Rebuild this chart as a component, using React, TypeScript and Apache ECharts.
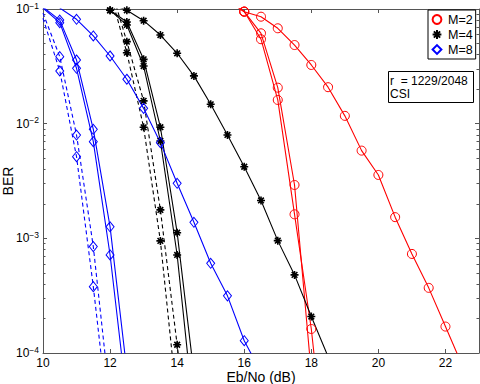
import React, { useEffect, useRef } from 'react';
import * as echarts from 'echarts';

const FONT = '"Liberation Sans", Arial, Helvetica, sans-serif';

// axis ticks
const xTickValues = [10, 12, 14, 16, 18, 20, 22];
const yMajorExp = [-4, -3, -2, -1];
const yMinorTicks = [
  2e-4, 3e-4, 4e-4, 5e-4, 6e-4, 7e-4, 8e-4, 9e-4,
  2e-3, 3e-3, 4e-3, 5e-3, 6e-3, 7e-3, 8e-3, 9e-3,
  2e-2, 3e-2, 4e-2, 5e-2, 6e-2, 7e-2, 8e-2, 9e-2,
];

// M=2 (red)
const m2SlowX = [15.5, 16, 16.5, 17, 17.5, 18, 18.5, 19, 19.5, 20, 20.5, 21, 21.5, 22, 22.5];
const m2SlowBER = [0.12, 0.0946, 0.0857, 0.0679, 0.0485, 0.0325, 0.0208, 0.0117, 0.00582, 0.00357, 0.00153, 7.31e-4, 3.7e-4, 1.7e-4, 7.8e-5];
const m2SteepXA = [15.5, 16, 16.5, 17, 17.5, 18];
const m2SteepBERA = [0.12, 0.095, 0.0614, 0.0206, 0.00292, 6.6e-5];
const m2SteepXB = [15.5, 16, 16.5, 17, 17.5, 18, 18.5];
const m2SteepBERB = [0.12, 0.095, 0.0545, 0.0161, 0.00162, 1.62e-4, 7.2e-6];

// M=4 (black)
const m4SlowX = [12, 12.5, 13, 13.5, 14, 14.5, 15, 15.5, 16, 16.5, 17, 17.5, 18, 18.5];
const m4SlowBER = [0.112, 0.0974, 0.0791, 0.0593, 0.0411, 0.0261, 0.01476, 0.00797, 0.00421, 0.00214, 9.55e-4, 4.8e-4, 2.08e-4, 9.3e-5];
const m4SolidX = [11.5, 12, 12.5, 13, 13.5, 14, 14.5];
const m4SolidBERA = [0.13, 0.0974, 0.077, 0.0364, 0.00931, 1.12e-3, 6.6e-5];
const m4SolidBERB = [0.13, 0.0974, 0.0726, 0.0318, 0.00706, 7.16e-4, 2.9e-5];
const m4DashXA = [12, 12.5, 13, 13.5, 14, 14.5];
const m4DashBERA = [0.16, 0.0519, 0.0158, 1.77e-3, 1.18e-4, 8e-6];
const m4DashXB = [12, 12.5, 13, 13.5, 14];
const m4DashBERB = [0.14, 0.0416, 0.0093, 9.5e-4, 3.7e-5];

// M=8 (blue)
const m8SlowX = [10.5, 11, 11.5, 12, 12.5, 13, 13.5, 14, 14.5, 15, 15.5, 16, 16.5];
const m8SlowBER = [0.102, 0.0813, 0.0582, 0.0389, 0.0244, 0.0136, 0.00683, 0.00302, 0.00138, 6.06e-4, 3.15e-4, 1.28e-4, 6.8e-5];
const m8SolidX = [10, 10.5, 11, 11.5, 12, 12.5];
const m8SolidBERA = [0.104, 0.08, 0.0359, 0.00893, 1.26e-3, 7.0e-5];
const m8SolidBERB = [0.102, 0.076, 0.0304, 0.00697, 7.16e-4, 3.9e-5];
const m8DashX = [10, 10.5, 11, 11.5, 12];
const m8DashBERA = [0.092, 0.0384, 0.00796, 8.47e-4, 3.85e-5];
const m8DashBERB = [0.083, 0.0288, 0.00515, 3.79e-4, 2.0e-5];

const RED = '#ff0000';
const BLACK = '#000000';
const BLUE = '#0000ff';
const STAR = 'path://M5,0L5,10M0,5L10,5M1.46,1.46L8.54,8.54M1.46,8.54L8.54,1.46';

type Style = { color: string; symbol: string; size: number | number[]; bw: number; fill: string };
const styles: Record<string, Style> = {
  'M=2': { color: RED, symbol: 'circle', size: 9, bw: 1, fill: 'rgba(0,0,0,0)' },
  'M=4': { color: BLACK, symbol: STAR, size: 8, bw: 1.6, fill: BLACK },
  'M=8': { color: BLUE, symbol: 'diamond', size: [8, 10], bw: 1, fill: 'rgba(0,0,0,0)' },
};

function mk(name: string, xs: number[], ys: number[], dashed: boolean, hideFirstSymbol = false) {
  const s = styles[name];
  return {
    type: 'line',
    name,
    xAxisIndex: 0,
    yAxisIndex: 0,
    symbol: s.symbol,
    symbolSize: s.size,
    showAllSymbol: true,
    clip: true,
    itemStyle: { color: s.fill, borderColor: s.color, borderWidth: s.bw },
    lineStyle: { color: s.color, width: 1.1, type: dashed ? [4, 3] : 'solid' },
    emphasis: { disabled: true },
    data: xs.map((x, i) =>
      hideFirstSymbol && i === 0 ? { value: [x, ys[i]], symbol: 'none' } : [x, ys[i]]
    ),
  };
}

export default function App() {
  const ref = useRef<HTMLDivElement>(null);
  useEffect(() => {
    if (!ref.current) return;
    const chart = echarts.init(ref.current, null, { renderer: 'svg' });
    const axisLineStyle = { color: '#555', width: 1 };
    const minorLog = yMinorTicks.map((v) => Math.log10(v));
    const majorLog = yMajorExp;
    const option: any = {
      animation: false,
      backgroundColor: '#ffffff',
      textStyle: { fontFamily: FONT },
      grid: { left: 43, right: 1, top: 9, bottom: 31, containLabel: false, outerBoundsMode: 'none' },
      title: {
        text: 'r  = 1229/2048\nCSI',
        left: 388,
        top: 71,
        padding: [3, 6, 3, 2],
        borderColor: '#000',
        borderWidth: 1,
        backgroundColor: '#fff',
        textStyle: { fontFamily: FONT, fontSize: 12, fontWeight: 'normal', color: '#000', lineHeight: 13 },
      },
      legend: {
        orient: 'vertical',
        left: 428,
        top: 10,
        padding: [3, 3, 3, 3],
        itemGap: 2,
        itemWidth: 12,
        itemHeight: 11,
        borderColor: '#000',
        borderWidth: 1,
        borderRadius: 0,
        backgroundColor: '#fff',
        selectedMode: false,
        lineStyle: { opacity: 0, width: 0 },
        textStyle: { fontFamily: FONT, fontSize: 12.5, color: '#000', lineHeight: 13, padding: [0, 0, 0, 0] },
        data: ['M=2', 'M=4', 'M=8'],
      },
      xAxis: [
        {
          type: 'value',
          position: 'bottom',
          min: 10,
          max: 23,
          interval: 2,
          name: 'Eb/No (dB)',
          nameLocation: 'middle',
          nameGap: 17,
          nameMoveOverlap: false,
          nameTextStyle: { fontFamily: FONT, fontSize: 14, lineHeight: 13, color: '#000', verticalAlign: 'top' },
          axisLine: { show: true, lineStyle: axisLineStyle },
          axisTick: { show: true, inside: true, length: 4, customValues: xTickValues, lineStyle: axisLineStyle },
          axisLabel: { show: true, customValues: xTickValues, margin: 4, fontFamily: FONT, fontSize: 12, lineHeight: 12, color: '#000' },
          splitLine: { show: false },
        },
        {
          type: 'value',
          position: 'top',
          min: 10,
          max: 23,
          interval: 2,
          axisLine: { show: true, onZero: false, lineStyle: axisLineStyle },
          axisTick: { show: true, inside: true, length: 4, customValues: xTickValues, lineStyle: axisLineStyle },
          axisLabel: { show: false },
          splitLine: { show: false },
        },
      ],
      yAxis: [
        {
          type: 'log',
          logBase: 10,
          position: 'left',
          min: 1e-4,
          max: 0.1,
          name: 'BER',
          nameLocation: 'middle',
          nameGap: 28,
          nameMoveOverlap: false,
          nameTextStyle: { fontFamily: FONT, fontSize: 14, color: '#000' },
          axisLine: { show: true, lineStyle: axisLineStyle },
          axisTick: { show: false },
          axisLabel: {
            show: true,
            margin: 4,
            formatter: (v: number) => {
              const e = Math.round(Math.log10(v));
              return `{b|10}{s|${e < 0 ? '\u2212' : ''}${Math.abs(e)}}`;
            },
            rich: {
              b: { fontFamily: FONT, fontSize: 12, color: '#000' },
              s: { fontFamily: FONT, fontSize: 8.5, color: '#000', padding: [0, 0, 7, 0] },
            },
          },
          splitLine: { show: false },
        },
        {
          type: 'value', position: 'left', min: -4, max: -1,
          axisLine: { show: false },
          axisTick: { show: true, inside: true, length: 4, customValues: majorLog, lineStyle: axisLineStyle },
          axisLabel: { show: false }, splitLine: { show: false },
        },
        {
          type: 'value', position: 'left', min: -4, max: -1,
          axisLine: { show: false },
          axisTick: { show: true, inside: true, length: 2.5, customValues: minorLog, lineStyle: axisLineStyle },
          axisLabel: { show: false }, splitLine: { show: false },
        },
        {
          type: 'value', position: 'right', min: -4, max: -1,
          axisLine: { show: true, onZero: false, lineStyle: axisLineStyle },
          axisTick: { show: true, inside: true, length: 4, customValues: majorLog, lineStyle: axisLineStyle },
          axisLabel: { show: false }, splitLine: { show: false },
        },
        {
          type: 'value', position: 'right', min: -4, max: -1,
          axisLine: { show: false },
          axisTick: { show: true, inside: true, length: 2.5, customValues: minorLog, lineStyle: axisLineStyle },
          axisLabel: { show: false }, splitLine: { show: false },
        },
      ],
      series: [
        mk('M=2', m2SlowX, m2SlowBER, false),
        mk('M=2', m2SteepXA, m2SteepBERA, false),
        mk('M=2', m2SteepXB, m2SteepBERB, false),
        mk('M=4', m4SlowX, m4SlowBER, false),
        mk('M=4', m4SolidX, m4SolidBERA, false),
        mk('M=4', m4SolidX, m4SolidBERB, false),
        mk('M=4', m4DashXA, m4DashBERA, true),
        mk('M=4', m4DashXB, m4DashBERB, true),
        mk('M=8', m8SlowX, m8SlowBER, false),
        mk('M=8', m8SolidX, m8SolidBERA, false),
        mk('M=8', m8SolidX, m8SolidBERB, false),
        mk('M=8', m8DashX, m8DashBERA, true, true),
        mk('M=8', m8DashX, m8DashBERB, true, true),
      ],
    };
    chart.setOption(option);
    return () => chart.dispose();
  }, []);
  return (
    <div
      ref={ref}
      style={{ position: 'fixed', left: 0, top: 0, width: 480, height: 384, background: '#fff' }}
    />
  );
}
